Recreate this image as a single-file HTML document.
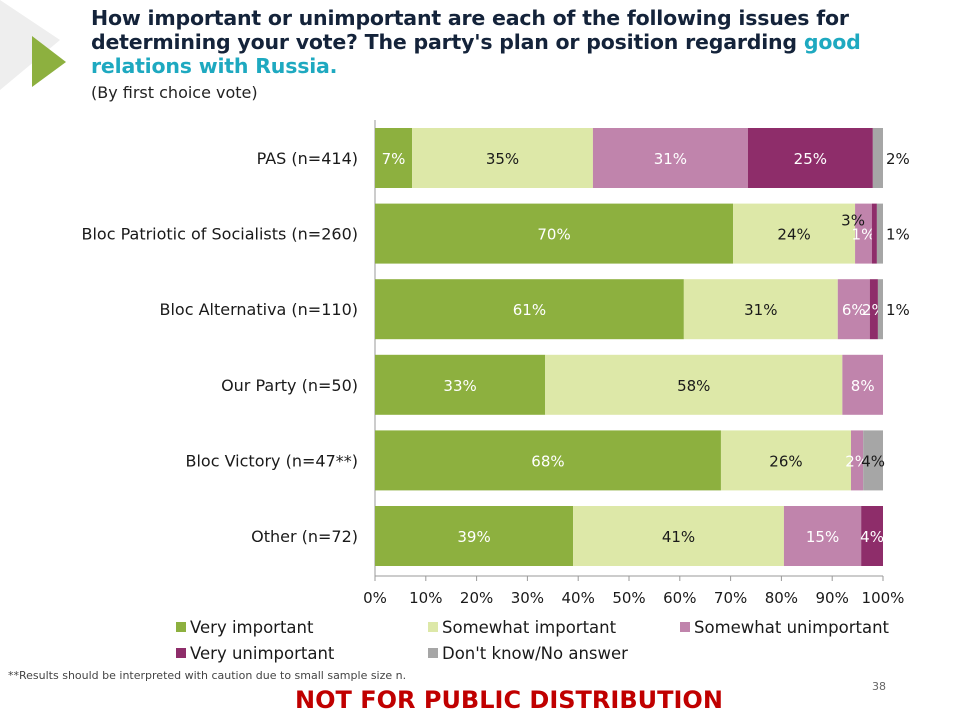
<!DOCTYPE html>
<html><head><meta charset="utf-8"><style>
body{margin:0;width:957px;height:720px;background:#fff;font-family:"DejaVu Sans","Liberation Sans",sans-serif;overflow:hidden;position:relative}
.t{position:absolute;left:91px;top:6px;font-weight:bold;font-size:20.5px;line-height:24px;color:#14233a;letter-spacing:-0.2px}
.t span{color:#1ea9c0}
.sub{position:absolute;left:91px;top:83px;font-size:16px;color:#222}
</style></head><body>
<svg width="80" height="110" style="position:absolute;left:0;top:0">
<polygon points="0,0 60,40 0,90" fill="#eeeeee"/><polygon points="32,36 66,62 32,87" fill="#8db03f"/></svg>
<div class="t">How important or unimportant are each of the following issues for<br>determining your vote? The party's plan or position regarding <span>good<br>relations with Russia.</span></div>
<div class="sub">(By first choice vote)</div>
<svg id="c" width="957" height="720" style="position:absolute;left:0;top:0;font-family:'DejaVu Sans','Liberation Sans',sans-serif"></svg>
<script>
const categories=["PAS  (n=414)","Bloc Patriotic of Socialists (n=260)","Bloc Alternativa (n=110)","Our Party (n=50)","Bloc Victory (n=47**)","Other (n=72)"];
const seriesNames=["Very important","Somewhat important","Somewhat unimportant","Very unimportant","Don't know/No answer"];
const veryImp=[7.3,70.5,60.8,33.5,68.1,39];
const somewhatImp=[35.6,24,30.3,58.5,25.6,41.5];
const somewhatUnimp=[30.5,3.3,6.3,8,2.4,15.2];
const veryUnimp=[24.6,1,1.6,0,0,4.3];
const dkna=[2,1.2,1,0,3.9,0];
const labels=[["7%","35%","31%","25%","2%"],["70%","24%","1%","","1%"],["61%","31%","6%","2%","1%"],["33%","58%","8%","",""],["68%","26%","2%","","4%"],["39%","41%","15%","4%",""]];
const ticks=[0,10,20,30,40,50,60,70,80,90,100];
const colors=["#8db03f","#dde8a8","#c084ac","#8e2d6a","#a6a6a6"];
const txtCol=["#fff","#1a1a1a","#fff","#fff","#1a1a1a"];
const NS="http://www.w3.org/2000/svg",svg=document.getElementById('c');
const x0=375,x1=883,X=v=>x0+(x1-x0)*v/100,rowY=i=>128+i*75.6,bh=60;
function mk(t,a,p){const e=document.createElementNS(NS,t);for(const k in a)e.setAttribute(k,a[k]);(p||svg).appendChild(e);return e;}
const series=[veryImp,somewhatImp,somewhatUnimp,veryUnimp,dkna];
mk('line',{x1:x0,y1:120,x2:x0,y2:576,stroke:'#999'});
mk('line',{x1:x0,y1:576,x2:x1,y2:576,stroke:'#999'});
categories.forEach((c,i)=>{
 const y=rowY(i);
 const l=mk('text',{x:358,y:y+bh/2+6,'text-anchor':'end','font-size':16,fill:'#1a1a1a'});l.textContent=c;
 
 let acc=0;
 series.forEach((s,k)=>{
  const v=s[i];if(v<=0)return;
  const r=mk('rect',{x:X(acc),y:y,width:X(acc+v)-X(acc),height:bh,fill:colors[k]});
  
  const lab=labels[i][k];
  if(lab){
   let cx=(X(acc)+X(acc+v))/2,cy=y+bh/2+6,col=txtCol[k],anc='middle';
   if(k==4&&v<3){cx=X(100)+3;anc='start';col='#1a1a1a';}
   const t=mk('text',{x:cx,y:cy,'text-anchor':anc,'font-size':15,fill:col});t.textContent=lab;
   
  }
  acc+=v;
 });
});
// extra annotation above Bloc Patriotic pink segment
{const a=veryImp[1]+somewhatImp[1];const t=mk('text',{x:X(a)-2,y:rowY(1)+22,'text-anchor':'middle','font-size':15,fill:'#1a1a1a'});t.textContent="3%";
}
ticks.forEach(v=>{
 mk('line',{x1:X(v),y1:576,x2:X(v),y2:581,stroke:'#999'});
 const t=mk('text',{x:X(v),y:603,'text-anchor':'middle','font-size':15,fill:'#1a1a1a'});t.textContent=v+'%';
 
});
const lx=[176,428,680,176,428],ly=[628,628,628,654,654];
seriesNames.forEach((n,k)=>{
 const r=mk('rect',{x:lx[k],y:ly[k]-6,width:10,height:10,fill:colors[k]});
 
 const t=mk('text',{x:lx[k]+14,y:ly[k]+5,'font-size':16.5,fill:'#1a1a1a'});t.textContent=n;
 
});
</script>
<div style="position:absolute;left:8px;top:669px;font-size:11px;color:#444">**Results should be interpreted with caution due to small sample size n.</div>
<div style="position:absolute;left:872px;top:680px;font-size:11px;color:#666">38</div>
<div style="position:absolute;left:295px;top:686px;font-size:24px;font-weight:bold;color:#c00000">NOT FOR PUBLIC DISTRIBUTION</div>
</body></html>
